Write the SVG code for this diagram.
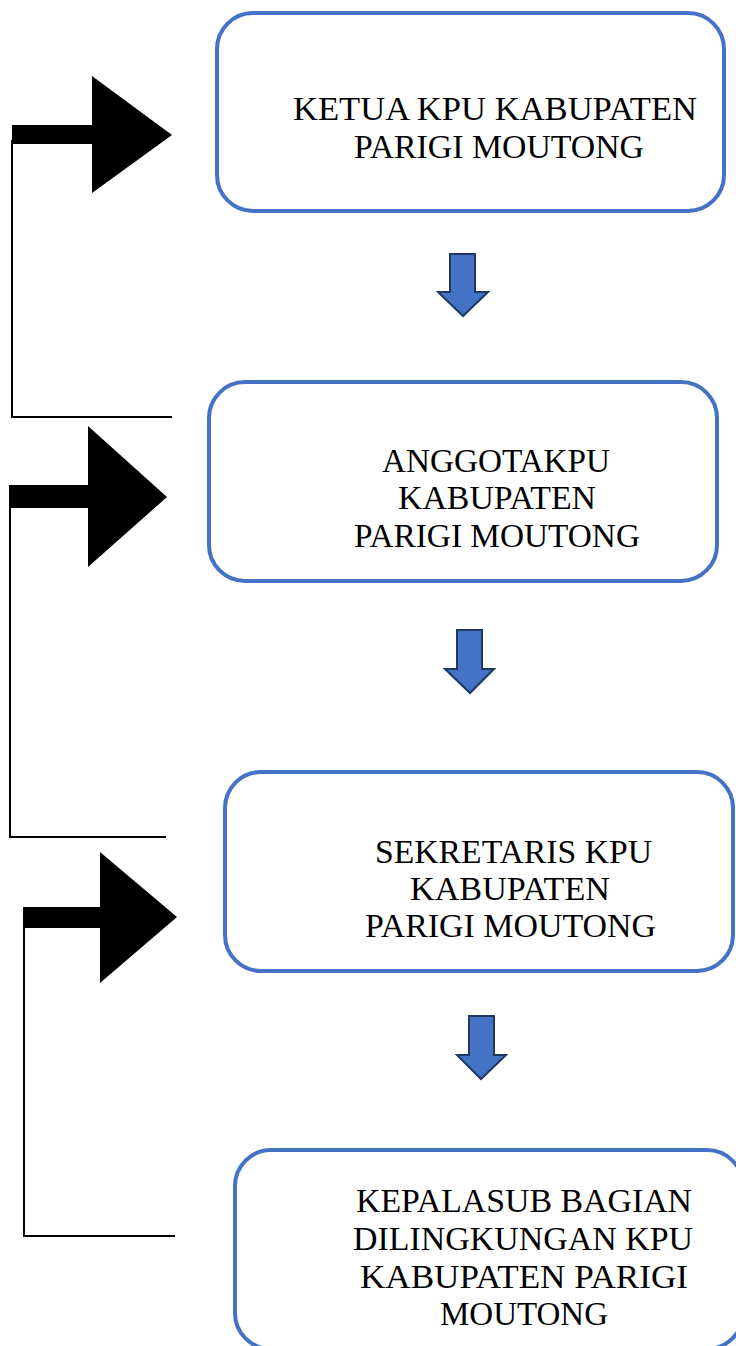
<svg xmlns="http://www.w3.org/2000/svg" width="736" height="1346" viewBox="0 0 736 1346">
<style>
.box{fill:#fff;stroke:#4472C4;stroke-width:4}
.t{font-family:"Liberation Serif","Times New Roman",serif;font-size:33px;fill:#000}
.down{fill:#4472C4;stroke:#1F3864;stroke-width:2;stroke-linejoin:miter}
.blk{fill:#000}
.ln{fill:none;stroke:#000;stroke-width:2}
</style>
<rect width="736" height="1346" fill="#fff"/>
<g id="node1">
<rect class="box" x="217" y="13" width="507" height="198" rx="36"/>
<text class="t" x="293" y="120" textLength="404" lengthAdjust="spacingAndGlyphs">KETUA KPU KABUPATEN</text>
<text class="t" x="354" y="158" textLength="290" lengthAdjust="spacingAndGlyphs">PARIGI MOUTONG</text>
</g>
<g id="node2">
<rect class="box" x="209" y="382" width="508" height="199" rx="36"/>
<text class="t" x="382" y="472" textLength="228" lengthAdjust="spacingAndGlyphs">ANGGOTAKPU</text>
<text class="t" x="398" y="509" textLength="198" lengthAdjust="spacingAndGlyphs">KABUPATEN</text>
<text class="t" x="354" y="547" textLength="286" lengthAdjust="spacingAndGlyphs">PARIGI MOUTONG</text>
</g>
<g id="node3">
<rect class="box" x="225" y="772" width="508" height="199" rx="36"/>
<text class="t" x="375" y="863" textLength="277" lengthAdjust="spacingAndGlyphs">SEKRETARIS KPU</text>
<text class="t" x="410" y="900" textLength="200" lengthAdjust="spacingAndGlyphs">KABUPATEN</text>
<text class="t" x="365" y="937" textLength="291" lengthAdjust="spacingAndGlyphs">PARIGI MOUTONG</text>
</g>
<g id="node4">
<rect class="box" x="235" y="1150" width="508" height="199" rx="36"/>
<text class="t" x="356" y="1212" textLength="336" lengthAdjust="spacingAndGlyphs">KEPALASUB BAGIAN</text>
<text class="t" x="353" y="1250" textLength="340" lengthAdjust="spacingAndGlyphs">DILINGKUNGAN  KPU</text>
<text class="t" x="360" y="1288" textLength="328" lengthAdjust="spacingAndGlyphs">KABUPATEN  PARIGI</text>
<text class="t" x="440" y="1325" textLength="168" lengthAdjust="spacingAndGlyphs">MOUTONG</text>
</g>
<g id="connectors">
<polygon class="down" points="450,254 475,254 475,292 488,292 463,316 438,292 450,292"/>
<polygon class="down" points="457,630 482,630 482,669 494,669 470,693 445,669 457,669"/>
<polygon class="down" points="469,1016 494,1016 494,1055 506,1055 481,1079 457,1055 469,1055"/>
<polygon class="blk" points="12,125 92,125 92,76 172,135 92,193 92,144 12,144"/>
<polyline class="ln" points="12,140 12,417 172,417"/>
<polygon class="blk" points="9,485 88,485 88,426 167,497 88,567 88,508 9,508"/>
<polyline class="ln" points="10,500 10,837 166,837"/>
<polygon class="blk" points="23,907 100,907 100,852 177,917 100,983 100,928 23,928"/>
<polyline class="ln" points="24,920 24,1236 175,1236"/>
</g>
</svg>
